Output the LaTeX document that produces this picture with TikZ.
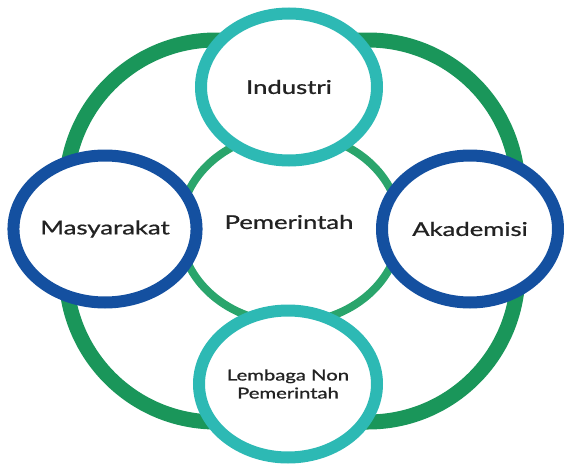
\documentclass[tikz,border=0pt]{standalone}
\usepackage{fontspec}
\usepackage{graphicx}
\setmainfont{Lato}[FakeBold=0.8]
\usetikzlibrary{shapes.geometric}
\definecolor{outergreen}{HTML}{1A965A}
\definecolor{innergreen}{HTML}{2AA56C}
\definecolor{cyanring}{HTML}{2DB9B4}
\definecolor{bluering}{HTML}{1450A0}
\definecolor{txt}{HTML}{222222}
\tikzset{
  x=1pt, y=1pt,
  ringnode/.style={ellipse, fill=white, line width=12pt, inner sep=0pt,
    minimum width=176pt, minimum height=147pt, text=txt,
    font=\fontsize{19}{21}\selectfont, align=center},
  cyannode/.style={ringnode, draw=cyanring},
  bluenode/.style={ringnode, draw=bluering},
}
\newcommand{\wide}[1]{\scalebox{1.35}[1]{#1}}
\begin{document}
\begin{tikzpicture}
\useasboundingbox (0,0) rectangle (566,-466);
% outer ring
\draw[outergreen, line width=15pt, rounded corners=150pt] (66,-40) rectangle (518,-422);
% inner ring
\node[ellipse, draw=innergreen, line width=8pt, minimum width=220pt, minimum height=190pt,
  inner sep=0pt] (pem) at (290,-228) {};
\node[text=txt, font=\fontsize{19}{21}\selectfont] (pemtext) at (289,-222) {\wide{Pemerintah}};
% outer nodes
\node[cyannode] (ind) at (289,-87) {\wide{Industri}};
\node[bluenode] (mas) at (105,-229) {\wide{Masyarakat}};
\node[bluenode] (aka) at (470,-229) {\wide{Akademisi}};
\node[cyannode, font=\fontsize{15}{18}\selectfont, minimum width=178pt] (lem) at (288,-384) {\wide{Lembaga Non}\\\wide{Pemerintah}};
\end{tikzpicture}
\end{document}
